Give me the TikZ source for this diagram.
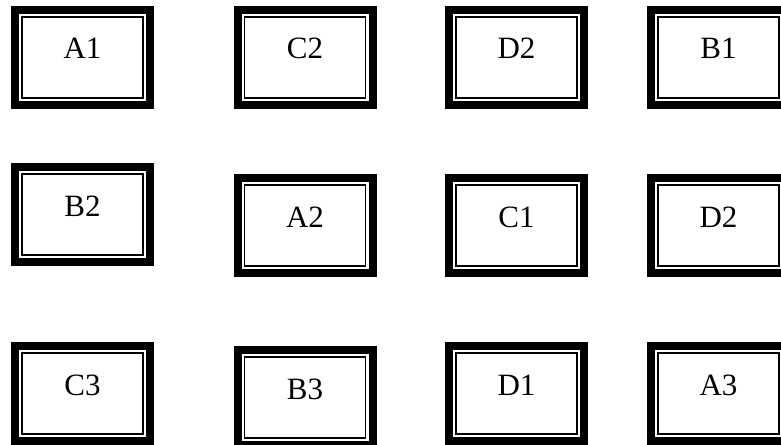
\documentclass[tikz,border=0pt]{standalone}
\usepackage{fontspec}
\setmainfont{Liberation Serif}
\tikzset{
  boxo/.style={draw=black, line width=8pt, fill=white, minimum width=135pt,
    minimum height=95pt, inner sep=0pt, outer sep=0pt},
  thinl/.style={draw=black, line width=1.8pt},
  lbl/.style={inner sep=0pt, outer sep=0pt, font=\fontsize{31}{36}\selectfont}
}
\newcommand\dblbox[4]{%
  \node[boxo] (#1) at (#2pt,-#3pt) {};
  \draw[thinl] ([shift={(7pt,7pt)}]#1.south west) rectangle ([shift={(-7pt,-7pt)}]#1.north east);
  \node[lbl, anchor=base] (#1t) at ([yshift=-49pt]#1.north) {#4};
}
\begin{document}
\begin{tikzpicture}
\useasboundingbox (0,0) rectangle (781pt,-444pt);
\clip (0,0) rectangle (781pt,-444pt);
\fill[white] (0,0) rectangle (781pt,-444pt);
% row 1
\dblbox{a1}{82.5}{57.5}{A1}
\dblbox{c2}{305}{57.5}{C2}
\dblbox{d2a}{516.5}{57.5}{D2}
\dblbox{b1}{718.5}{57.5}{B1}
% row 2
\dblbox{b2}{82.5}{214.5}{B2}
\dblbox{a2}{305}{225.5}{A2}
\dblbox{c1}{516.5}{225.5}{C1}
\dblbox{d2b}{718.5}{225.5}{D2}
% row 3
\dblbox{c3}{82.5}{393.5}{C3}
\dblbox{b3}{305}{397.5}{B3}
\dblbox{d1}{516.5}{393.5}{D1}
\dblbox{a3}{718.5}{393.5}{A3}
\end{tikzpicture}
\end{document}
